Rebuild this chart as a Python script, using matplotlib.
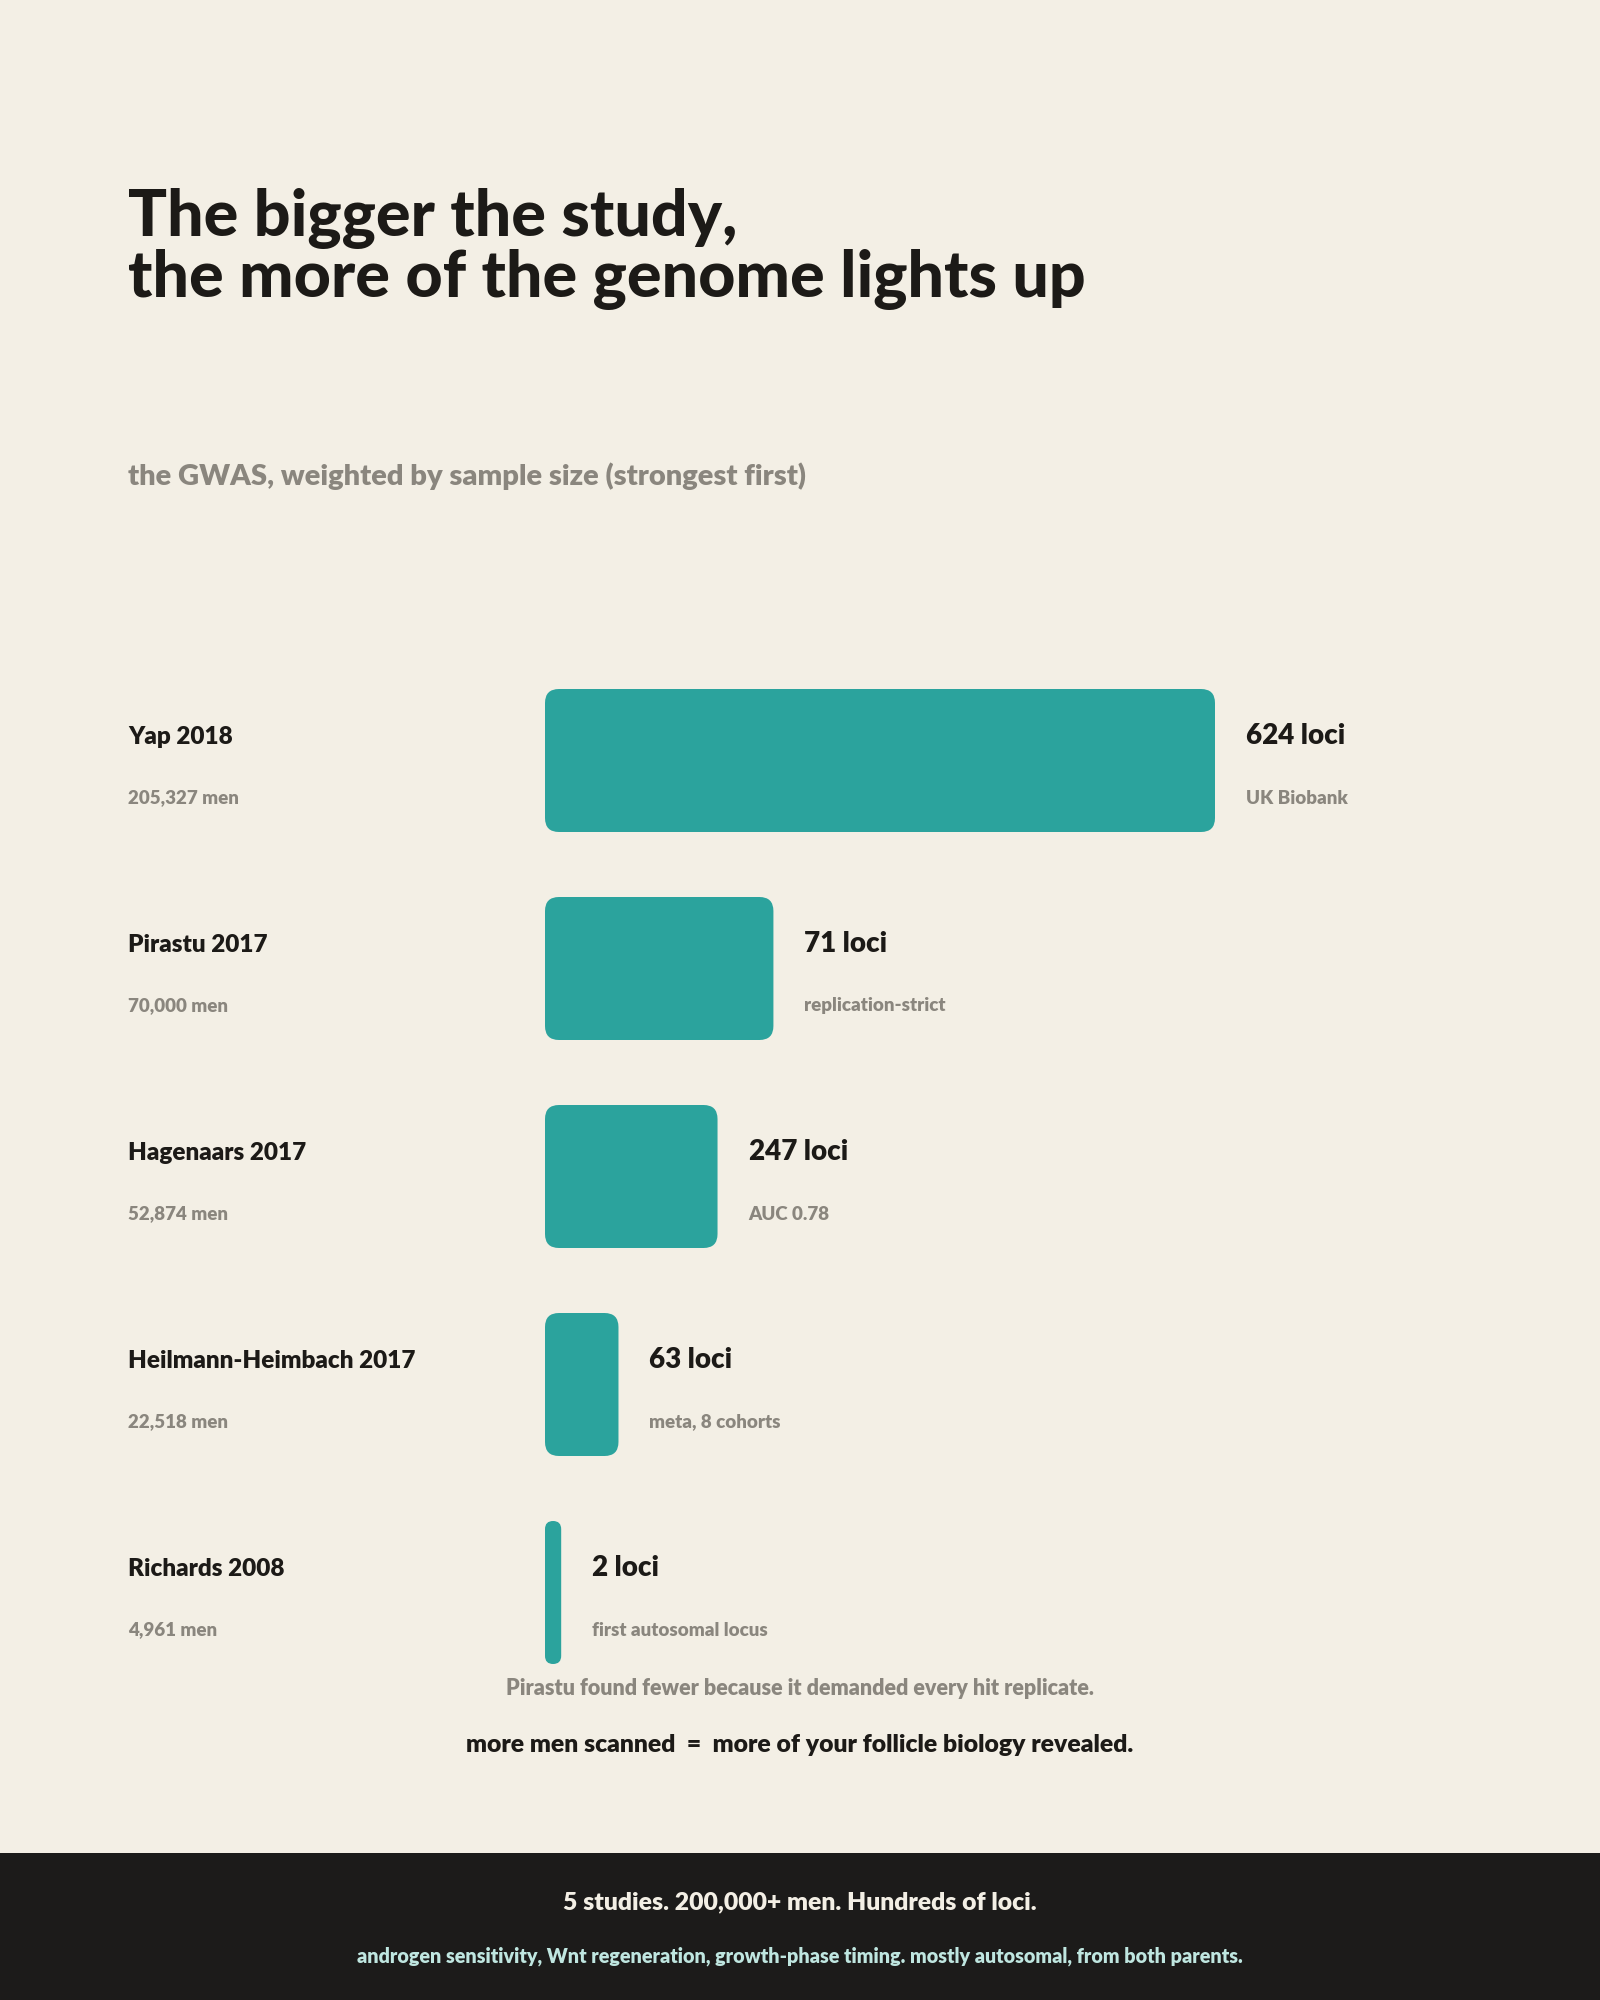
import matplotlib
matplotlib.use("Agg")
import matplotlib.pyplot as plt
from matplotlib.patches import FancyBboxPatch, Rectangle
from matplotlib.transforms import blended_transform_factory

studies = ["Yap 2018", "Pirastu 2017", "Hagenaars 2017",
           "Heilmann-Heimbach 2017", "Richards 2008"]
men = [205327, 70000, 52874, 22518, 4961]
loci = [624, 71, 247, 63, 2]
notes = ["UK Biobank", "replication-strict", "AUC 0.78",
         "meta, 8 cohorts", "first autosomal locus"]

BG = "#f3efe5"
TEAL = "#2ba39d"
INK = "#1c1a17"
GREY = "#8a867e"

plt.rcParams['font.family'] = ['Lato', 'DejaVu Sans']

W, H = 1600, 2000
fig = plt.figure(figsize=(16, 20), dpi=100, facecolor=BG)

def fy(px):
    return 1 - px / H

# title + subtitle
fig.text(128 / W, fy(236), "The bigger the study,", fontsize=46.5, fontweight='black',
         color=INK, va='baseline')
fig.text(128 / W, fy(297), "the more of the genome lights up", fontsize=46.5,
         fontweight='black', color=INK, va='baseline')
fig.text(128 / W, fy(485), "the GWAS, weighted by sample size (strongest first)",
         fontsize=21, fontweight='heavy', color=GREY, va='baseline')

# bar axes: left edge 545px, longest bar 670px, rows 208px apart
row = 208
top = 760.5 - row / 2
ax = fig.add_axes([545 / W, fy(top + row * 5), 670 / W, row * 5 / H])
ax.set_xlim(0, max(men))
ax.set_ylim(4.5, -0.5)
ax.axis('off')
ax.patch.set_alpha(0)

bar_h = 143 / row
x_per_px = max(men) / 670
y_per_px = 1 / row
radius_px = 14
for i, n in enumerate(men):
    w_px = n / x_per_px
    r = min(radius_px, w_px / 2) * x_per_px
    p = FancyBboxPatch((0, i - bar_h / 2), n, bar_h,
                       boxstyle=f"round,pad=0,rounding_size={r}",
                       mutation_aspect=y_per_px / x_per_px,
                       facecolor=TEAL, edgecolor='none', clip_on=False)
    ax.add_patch(p)

pt = 0.72  # points per pixel
lab_tr = blended_transform_factory(fig.transFigure, ax.transData)
for i in range(len(studies)):
    ax.annotate(studies[i], (128 / W, i), xycoords=lab_tr, xytext=(0, 16 * pt),
                textcoords='offset points', fontsize=17.5, fontweight='heavy',
                color=INK, va='baseline', annotation_clip=False)
    ax.annotate(f"{men[i]:,} men", (128 / W, i), xycoords=lab_tr,
                xytext=(0, -43 * pt), textcoords='offset points', fontsize=13.5,
                fontweight='heavy', color=GREY, va='baseline', annotation_clip=False)
    ax.annotate(f"{loci[i]} loci", (men[i], i), xytext=(31 * pt, 16 * pt),
                textcoords='offset points', fontsize=20, fontweight='heavy',
                color=INK, va='baseline', annotation_clip=False)
    ax.annotate(notes[i], (men[i], i), xytext=(31 * pt, -43 * pt),
                textcoords='offset points', fontsize=13.5, fontweight='heavy',
                color=GREY, va='baseline', annotation_clip=False)

fig.text(0.5, fy(1695), "Pirastu found fewer because it demanded every hit replicate.",
         fontsize=15.5, fontweight='heavy', color=GREY, ha='center', va='baseline')
fig.text(0.5, fy(1752), "more men scanned  =  more of your follicle biology revealed.",
         fontsize=17.8, fontweight='heavy', color=INK, ha='center', va='baseline')

# footer band
fig.patches.append(Rectangle((0, 0), 1, 147 / H, transform=fig.transFigure,
                             facecolor="#1c1b1a", edgecolor='none', zorder=0))
fig.text(0.5, fy(1909), "5 studies. 200,000+ men. Hundreds of loci.",
         fontsize=17.8, fontweight='heavy', color="#f3efe5", ha='center', va='baseline')
fig.text(0.5, fy(1962), "androgen sensitivity, Wnt regeneration, growth-phase timing. "
         "mostly autosomal, from both parents.",
         fontsize=14.2, fontweight='heavy', color="#bfe6e0", ha='center', va='baseline')

fig.savefig("out.png", dpi=100, facecolor=BG)
